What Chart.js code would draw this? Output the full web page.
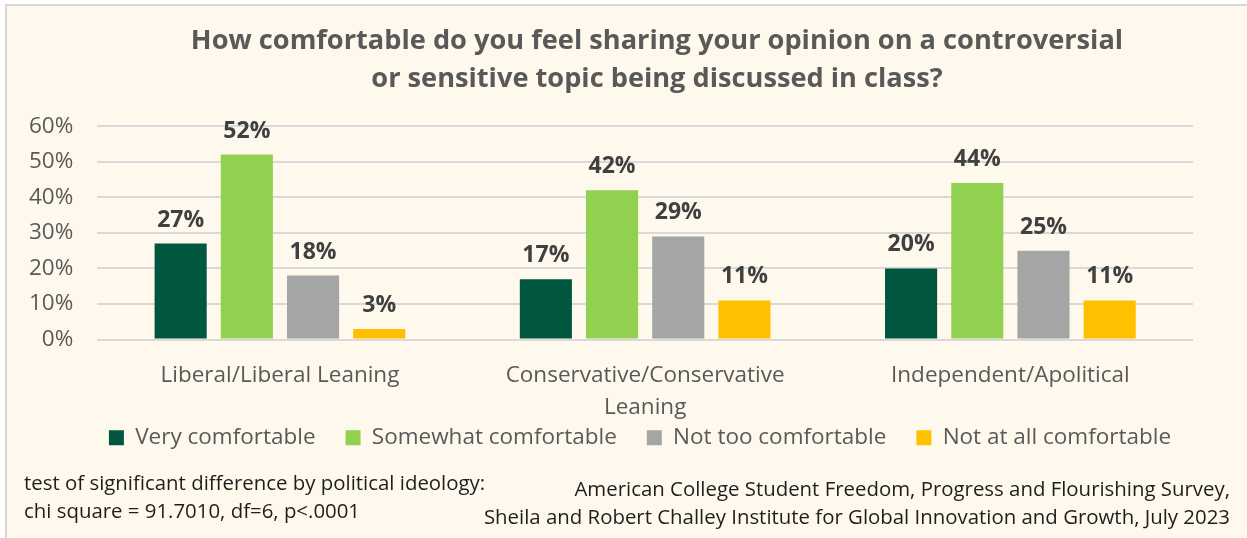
<!DOCTYPE html>
<html>
<head>
<meta charset="utf-8">
<script src="https://cdn.jsdelivr.net/npm/chart.js@4/dist/chart.umd.min.js"></script>
<style>
  html, body { margin: 0; padding: 0; background: #ffffff; }
  body { width: 1247px; height: 538px; position: relative; overflow: hidden; font-family: "Open Sans", "Noto Sans", sans-serif; }
  #frame { position: absolute; left: 5px; top: 4px; width: 1250px; height: 540px; background: #fef9ec; border-top: 2px solid #d9d9d9; border-left: 2px solid #d9d9d9; box-sizing: border-box; }
  #wrap { position: absolute; left: 0; top: 0; width: 1247px; height: 538px; }
  .note { position: absolute; font-size: 20.4px; color: #1e1e1e; line-height: 27.5px; white-space: nowrap; }
  #noteLeft { left: 24px; top: 469px; }
  #noteRight { right: 17px; top: 475px; text-align: right; }
</style>
</head>
<body>
<div id="frame"></div>
<div id="wrap"><canvas id="chart" width="1247" height="538"></canvas></div>
<div class="note" id="noteLeft">test of significant difference by political ideology:<br>chi square = 91.7010, df=6, p&lt;.0001</div>
<div class="note" id="noteRight">American College Student Freedom, Progress and Flourishing Survey,<br>Sheila and Robert Challey Institute for Global Innovation and Growth, July 2023</div>
<script>
// Political ideology groups (multi-line labels are arrays)
const categories = [
  "Liberal/Liberal Leaning",
  ["Conservative/Conservative", "Leaning"],
  "Independent/Apolitical"
];
const seriesNames = ["Very comfortable", "Somewhat comfortable", "Not too comfortable", "Not at all comfortable"];
const veryComfortable     = [27, 17, 20];
const somewhatComfortable = [52, 42, 44];
const notTooComfortable   = [18, 29, 25];
const notAtAllComfortable = [3, 11, 11];
const yTicks = [0, 10, 20, 30, 40, 50, 60];
const titleLines = [
  "How comfortable do you feel sharing your opinion on a controversial",
  "or sensitive topic being discussed in class?"
];

const colors = ["#00563f", "#92d050", "#a5a5a5", "#ffc000"];
const values = [veryComfortable, somewhatComfortable, notTooComfortable, notAtAllComfortable];
const FONT = '"Open Sans", "Noto Sans", sans-serif';

// Writes the percentage above each bar
const valueLabels = {
  id: "valueLabels",
  afterDatasetsDraw(chart) {
    const ctx = chart.ctx;
    ctx.save();
    ctx.font = "bold 23px " + FONT;
    ctx.fillStyle = "#404040";
    ctx.textAlign = "center";
    ctx.textBaseline = "alphabetic";
    chart.data.datasets.forEach((ds, i) => {
      chart.getDatasetMeta(i).data.forEach((bar, j) => {
        ctx.fillText(ds.data[j] + "%", bar.x, bar.y - 17);
      });
    });
    ctx.restore();
  }
};

// Pulls the legend up under the category labels, and centres legend and title
// on the page rather than on the padded layout box
const blockPlacement = {
  id: "blockPlacement",
  afterLayout(chart) {
    const lg = chart.legend;
    lg.top -= 39; lg.bottom -= 39;
    lg.left += 41; lg.right += 41;
    const tb = chart.titleBlock;
    tb.left += 58; tb.right += 58;
  }
};

new Chart(document.getElementById("chart"), {
  type: "bar",
  data: {
    labels: categories,
    datasets: seriesNames.map((name, i) => ({
      label: name,
      data: values[i],
      backgroundColor: colors[i],
      borderWidth: 0,
      categoryPercentage: 0.725,
      barPercentage: 0.787
    }))
  },
  options: {
    responsive: false,
    animation: false,
    devicePixelRatio: 1,
    layout: { padding: { left: 5, right: 54, top: 22, bottom: 40 } },
    plugins: {
      title: {
        display: true,
        text: titleLines,
        color: "#595959",
        font: { family: FONT, size: 27.2, weight: "bold", lineHeight: 1.4 },
        padding: { top: 0, bottom: 28 }
      },
      legend: {
        position: "bottom",
        labels: {
          color: "#595959",
          font: { family: FONT, size: 22.5 },
          boxWidth: 15,
          boxHeight: 15,
          padding: 30
        }
      },
      tooltip: { enabled: false }
    },
    scales: {
      x: {
        grid: { display: false },
        border: { display: false },
        ticks: {
          color: "#595959",
          font: { family: FONT, size: 22.5, lineHeight: 1.42 },
          maxRotation: 0,
          autoSkip: false,
          padding: 12
        }
      },
      y: {
        min: 0,
        max: 60,
        afterBuildTicks(axis) { axis.ticks = yTicks.map(v => ({ value: v })); },
        grid: { color: "#d9d9d9", lineWidth: 2, drawTicks: false },
        border: { display: false },
        ticks: {
          color: "#595959",
          font: { family: FONT, size: 22.5 },
          padding: 24,
          callback: v => v + "%"
        }
      }
    }
  },
  plugins: [valueLabels, blockPlacement]
});
</script>
</body>
</html>
